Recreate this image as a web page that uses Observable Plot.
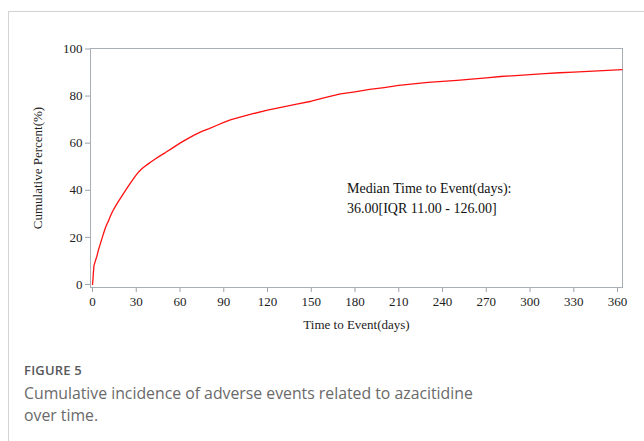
<!DOCTYPE html>
<html>
<head>
<meta charset="utf-8">
<script src="https://cdn.jsdelivr.net/npm/d3@7"></script>
<script src="https://cdn.jsdelivr.net/npm/@observablehq/plot@0.6"></script>
<style>
  html, body { margin: 0; padding: 0; background: #fff; }
  body { width: 644px; height: 441px; position: relative; overflow: hidden; }
  #border { position: absolute; left: 8px; top: 11px; right: -2px; bottom: -2px;
            border-top: 1px solid #d3d3d3; border-left: 1px solid #d3d3d3; }
  #chart { position: absolute; left: 0; top: 0; }
  #caption { position: absolute; left: 24px; top: 361px; font-family: "Open Sans", sans-serif; }
  #caption .fig { font-size: 13px; color: #58595b; font-weight: 600; letter-spacing: 0.2px; line-height: 18px; }
  #caption .txt { font-size: 15.8px; color: #6a6a6a; line-height: 22px; font-weight: 400; margin-top: 3px; }
</style>
</head>
<body>
<div id="border"></div>
<div id="chart"></div>
<div id="caption">
  <div class="fig" id="figLabel"></div>
  <div class="txt" id="figText"></div>
</div>
<script>
// Data (cumulative incidence, %)
const days = [0, 0.3, 0.6, 1, 2, 3, 4, 5, 6, 7, 8, 9, 10, 11, 12, 13, 14, 15, 16, 18, 20, 22, 24, 26, 28, 30,
  32, 34, 36, 38, 40, 43, 46, 50, 55, 60, 65, 70, 75, 80, 85, 90, 95, 100, 110, 120, 130, 140, 150,
  160, 170, 180, 190, 200, 210, 220, 230, 240, 250, 260, 270, 280, 290, 300, 310, 320, 330, 340, 350, 363];
const percent = [0, 2, 5, 8, 10, 12, 14.5, 16.5, 18.5, 20.5, 22.5, 24.3, 25.8, 27, 28.6, 30, 31.3, 32.4, 33.5, 35.5, 37.4, 39.3, 41.2, 43, 44.8, 46.5,
  48, 49.2, 50.2, 51.1, 52, 53.3, 54.5, 56, 58, 60, 61.8, 63.5, 65, 66.2, 67.5, 68.8, 70, 70.8, 72.5, 74, 75.3, 76.6, 77.8,
  79.4, 80.9, 81.8, 82.8, 83.6, 84.5, 85.2, 85.8, 86.2, 86.7, 87.2, 87.7, 88.3, 88.7, 89.1, 89.5, 89.9, 90.2, 90.5, 90.8, 91.2];
const xTicks = [0, 30, 60, 90, 120, 150, 180, 210, 240, 270, 300, 330, 360];
const yTicks = [0, 20, 40, 60, 80, 100];
const xLabel = "Time to Event(days)";
const yLabel = "Cumulative Percent(%)";
const noteLines = ["Median Time to Event(days):", "36.00[IQR 11.00 - 126.00]"];
const noteAt = [{day: 174.5, pct: 40.8}, {day: 174.5, pct: 32.3}];
const figureLabel = "FIGURE 5";
const figureText = "Cumulative incidence of adverse events related to azacitidine<br>over time.";

const curve = days.map((d, i) => ({day: d, pct: percent[i]}));
const notes = noteLines.map((t, i) => ({text: t, ...noteAt[i]}));

const serif = "'Liberation Serif', 'Times New Roman', serif";
const plot = Plot.plot({
  width: 644,
  height: 340,
  marginLeft: 90,
  marginRight: 22,
  marginTop: 48,
  marginBottom: 53,
  style: {fontFamily: serif, fontSize: "13px", color: "#222", background: "transparent"},
  x: {domain: [-1.37, 363.4]},
  y: {domain: [-1.3, 100.2]},
  marks: [
    Plot.axisX({ticks: xTicks, tickSize: 5, tickPadding: 4, stroke: "#9aa3ab", fill: "#222", fontSize: 13,
      label: xLabel, labelAnchor: "center", labelArrow: "none", labelOffset: 41}),
    Plot.axisY({ticks: yTicks, tickSize: 5, tickPadding: 3, stroke: "#9aa3ab", fill: "#222", fontSize: 13,
      label: yLabel, labelAnchor: "center", labelArrow: "none", labelOffset: 58}),
    Plot.frame({stroke: "#a7aeb5", strokeWidth: 1}),
    Plot.line(curve, {x: "day", y: "pct", curve: "linear", stroke: "#ff1010", strokeWidth: 1.3}),
    Plot.text(notes, {x: "day", y: "pct", text: "text", textAnchor: "start", fontSize: 14, fill: "#111"})
  ]
});
document.getElementById("chart").appendChild(plot);
document.getElementById("figLabel").textContent = figureLabel;
document.getElementById("figText").innerHTML = figureText;
</script>
</body>
</html>
